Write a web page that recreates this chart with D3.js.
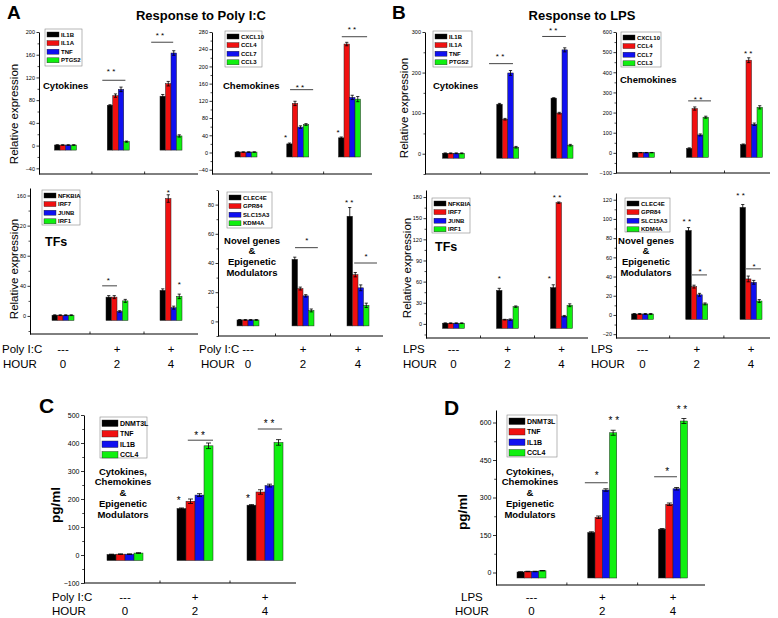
<!DOCTYPE html>
<html><head><meta charset="utf-8">
<script src="https://cdn.jsdelivr.net/npm/d3@7"></script>
<style>
body{margin:0;background:#fff}
text{font-family:"Liberation Sans",Arial,sans-serif;fill:#000}
</style>
</head><body>
<svg id="c" width="778" height="618"></svg>
<script>
// ---------------- DATA ----------------
const hours = ["0","2","4"];
const treatmentMarks = ["---","+","+"];
const cytokineGenes = ["IL1B","IL1A","TNF","PTGS2"];
const chemokineGenes = ["CXCL10","CCL4","CCL7","CCL3"];
const tfGenes = ["NFKBIA","IRF7","JUNB","IRF1"];
const novelGenes = ["CLEC4E","GPR84","SLC15A3","KDM4A"];
const proteinGenes = ["DNMT3L","TNF","IL1B","CCL4"];
const seriesColors = ["#000000","#f01010","#1010f0","#10f010"];

// rows = hours (0,2,4), columns = genes
const polyCytokines    = [[1,1,1,1],[71,88,99,7],[87,109,163,17]];
const polyCytokinesErr = [[0.5,0.5,0.5,0.5],[1,3,4,1],[3,4,4,2]];
const polyChemokines    = [[1,1,1,1],[20,114,59,65],[34,252,128,124]];
const polyChemokinesErr = [[0.5,0.5,0.5,0.5],[2,5,3,2],[2,4,5,6]];
const polyTFs    = [[1,1,1,1],[25,25,6,20],[34,156,11,26]];
const polyTFsErr = [[0.5,0.5,0.5,0.5],[2,2,1,2],[2,5,2,3]];
const polyNovel    = [[1,1,1,1],[42.5,22.5,17.5,7.5],[72,32,23,11]];
const polyNovelErr = [[0.3,0.3,0.3,0.3],[1.5,1,0.8,1],[6,1.5,2,1.5]];
const lpsCytokines    = [[1,1,1,1],[122,85,199,16],[137,100,256,21]];
const lpsCytokinesErr = [[1,1,1,1],[2,2,6,2],[1,2,5,2]];
const lpsChemokines    = [[1,1,1,1],[22,220,89,177],[41,460,142,226]];
const lpsChemokinesErr = [[1,1,1,1],[3,8,5,5],[3,12,6,8]];
const lpsTFs    = [[1,1,1,1],[47.5,6,6,24.5],[51.5,172,11,26.5]];
const lpsTFsErr = [[0.5,0.5,0.5,0.5],[3,0.5,1,1],[4,1,1,2]];
const lpsNovel    = [[1,1,1,1],[88,29.5,21,11.5],[112,37.5,34,14.5]];
const lpsNovelErr = [[0.5,0.5,0.5,0.5],[3,1.5,1.5,1],[3,3,2,1.5]];
const polyProtein    = [[2,3,3,7],[166,192,214,390],[178,225,248,402]];
const polyProteinErr = [[1,1,1,1],[2,8,5,10],[2,8,5,10]];
const lpsProtein    = [[2,4,4,7],[160,221,330,559],[173,273,335,606]];
const lpsProteinErr = [[1,1,1,1],[3,5,5,10],[3,5,5,10]];

// tick labels
const polyCytokineTicks = [-40,0,40,80,120,160,200];
const polyChemokineTicks = [-40,0,40,80,120,160,200,240,280];
const polyTFTicks = [0,40,80,120,160];
const polyNovelTicks = [0,20,40,60,80];
const lpsCytokineTicks = [0,100,200,300];
const lpsChemokineTicks = [-100,0,100,200,300,400,500,600];
const lpsTFTicks = [0,30,60,90,120,150,180];
const lpsNovelTicks = [-20,0,20,40,60,80,100,120];
const polyProteinTicks = [-100,0,100,200,300,400,500];
const lpsProteinTicks = [0,150,300,450,600];

// significance: lines [hourIndex, fromSlot, toSlot, value]; marks [hourIndex, slot, value, text]
const polyCytokinesSigLines = [[1,-2.9,1.3,115],[2,-3.6,0.4,182]];
const polyCytokinesSigMarks = [[1,-1.3,134,"* *"],[2,-2,198,"* *"]];
const polyChemokinesSigLines = [[1,-1.4,2.8,146],[2,-1.4,3.2,269]];
const polyChemokinesSigMarks = [[1,0.4,155,"* *"],[2,0.45,290,"* *"],[1,-2.2,39,"*"],[2,-2.1,51,"*"]];
const polyTFsSigLines = [[1,-2.7,0,40]];
const polyTFsSigMarks = [[1,-1.6,50,"*"],[2,-0.5,167,"*"],[2,1.5,44,"*"]];
const polyNovelSigLines = [[1,-1.45,2.7,50.5],[2,-0.7,3.45,40]];
const polyNovelSigMarks = [[1,0.7,57,"*"],[2,1.45,46,"*"],[2,-1.6,83,"* *"]];
const lpsCytokinesSigLines = [[1,-3.4,0.95,222],[2,-3.6,0.7,289]];
const lpsCytokinesSigMarks = [[1,-1.4,246,"* *"],[2,-1.6,310,"* *"]];
const lpsChemokinesSigLines = [[1,-1.7,2.45,258]];
const lpsChemokinesSigMarks = [[1,0.1,278,"* *"],[2,-0.6,506,"* *"]];
const lpsTFsSigLines = [];
const lpsTFsSigMarks = [[1,-1.5,68,"*"],[2,-2.2,68,"*"],[2,-0.8,183,"* *"]];
const lpsNovelSigLines = [[1,-0.86,1.86,41.7],[2,-0.9,1.8,48]];
const lpsNovelSigMarks = [[1,-1.8,100,"* *"],[1,0.6,47,"*"],[2,-1.9,127,"* *"],[2,0.55,53,"*"]];
const polyProteinSigLines = [[1,-0.8,2.0,410],[2,-0.8,1.9,450]];
const polyProteinSigMarks = [[1,-1.8,204,"*"],[1,0.5,436,"* *"],[2,-1.9,211,"*"],[2,0.45,478,"* *"]];
const lpsProteinSigLines = [[1,-2.4,0.76,359],[2,-2.6,0.55,383]];
const lpsProteinSigMarks = [[1,-0.76,398,"*"],[1,1.6,618,"* *"],[2,-0.8,414,"*"],[2,1.24,662,"* *"]];

// ---------------- DRAW ----------------
const svg = d3.select("#c");
const FONT = '"Liberation Sans",Arial,sans-serif';

const panels = [
 {genes:cytokineGenes, values:polyCytokines, errors:polyCytokinesErr, ticks:polyCytokineTicks,
  sigLines:polyCytokinesSigLines, sigMarks:polyCytokinesSigMarks,
  domain:[-50,200], x0:39, x1:198, yB:174, yT:32, c0:65.5, c4:171, gw:22, legend:[45,29,37,37], big:false,
  note:{lines:["Cytokines"], x:43, y:85, anchor:"start", size:9.5}},
 {genes:chemokineGenes, values:polyChemokines, errors:polyChemokinesErr, ticks:polyChemokineTicks,
  sigLines:polyChemokinesSigLines, sigMarks:polyChemokinesSigMarks,
  domain:[-50,280], x0:212, x1:372, yB:174, yT:32, c0:246, c4:349.5, gw:22, legend:[225,31,37,36], big:false,
  note:{lines:["Chemokines"], x:223, y:85, anchor:"start", size:9.5}},
 {genes:tfGenes, values:polyTFs, errors:polyTFsErr, ticks:polyTFTicks,
  sigLines:polyTFsSigLines, sigMarks:polyTFsSigMarks,
  domain:[-24,170], x0:30, x1:198, yB:334, yT:188, c0:63, c4:171, gw:22, legend:[42,190,38,35], big:false,
  note:{lines:["TFs"], x:45, y:242, anchor:"start", size:12.5}},
 {genes:novelGenes, values:polyNovel, errors:polyNovelErr, ticks:polyNovelTicks,
  sigLines:polyNovelSigLines, sigMarks:polyNovelSigMarks,
  domain:[-10,90], x0:218, x1:383, yB:336, yT:190, c0:248, c4:358, gw:22, legend:[227,192,45,36], big:false,
  note:{lines:["Novel genes","&","Epigenetic","Modulators"], x:252, y:240, anchor:"middle", size:9.5, lh:10.7}},
 {genes:cytokineGenes, values:lpsCytokines, errors:lpsCytokinesErr, ticks:lpsCytokineTicks,
  sigLines:lpsCytokinesSigLines, sigMarks:lpsCytokinesSigMarks,
  domain:[-50,300], x0:425, x1:588, yB:174, yT:32, c0:453.5, c4:562, gw:22, legend:[433,31,39,36], big:false,
  note:{lines:["Cytokines"], x:433, y:85, anchor:"start", size:9.5}},
 {genes:chemokineGenes, values:lpsChemokines, errors:lpsChemokinesErr, ticks:lpsChemokineTicks,
  sigLines:lpsChemokinesSigLines, sigMarks:lpsChemokinesSigMarks,
  domain:[-100,600], x0:616, x1:770, yB:173, yT:32, c0:643.5, c4:751.5, gw:22, legend:[621,32,40,35], big:false,
  note:{lines:["Chemokines"], x:620, y:79, anchor:"start", size:9.5}},
 {genes:tfGenes, values:lpsTFs, errors:lpsTFsErr, ticks:lpsTFTicks,
  sigLines:lpsTFsSigLines, sigMarks:lpsTFsSigMarks,
  domain:[-20,190], x0:426, x1:588, yB:338, yT:190, c0:453.5, c4:561.5, gw:22, legend:[432,198,38,35], big:false,
  note:{lines:["TFs"], x:435, y:247, anchor:"start", size:12.5}},
 {genes:novelGenes, values:lpsNovel, errors:lpsNovelErr, ticks:lpsNovelTicks,
  sigLines:lpsNovelSigLines, sigMarks:lpsNovelSigMarks,
  domain:[-24,127], x0:616, x1:770, yB:338, yT:193, c0:642.5, c4:751, gw:22, legend:[625,198,45,34], big:false,
  note:{lines:["Novel genes","&","Epigenetic","Modulators"], x:646, y:240, anchor:"middle", size:9.5, lh:10.7}},
 {genes:proteinGenes, values:polyProtein, errors:polyProteinErr, ticks:polyProteinTicks,
  sigLines:polyProteinSigLines, sigMarks:polyProteinSigMarks,
  domain:[-100,500], x0:84, x1:296, yB:583, yT:415, c0:125, c4:265, gw:36, legend:[100,417,47,41], big:true,
  note:{lines:["Cytokines,","Chemokines","&","Epigenetic","Modulators"], x:123, y:471, anchor:"middle", size:9.5, lh:10.8}},
 {genes:proteinGenes, values:lpsProtein, errors:lpsProteinErr, ticks:lpsProteinTicks,
  sigLines:lpsProteinSigLines, sigMarks:lpsProteinSigMarks,
  domain:[-50,650], x0:496, x1:705, yB:585, yT:410, c0:531.5, c4:673, gw:29, legend:[507,415,50,42], big:true,
  note:{lines:["Cytokines,","Chemokines","&","Epigenetic","Modulators"], x:530, y:471, anchor:"middle", size:9.5, lh:10.8}}
];

function drawPanel(p){
  const g = svg.append("g");
  const y = d3.scaleLinear().domain(p.domain).range([p.yB, p.yT]);
  const xg = d3.scalePoint().domain(hours).range([p.c0, p.c4]);
  const xs = d3.scaleBand().domain(p.genes).range([-p.gw/2, p.gw/2]);
  const bw = xs.bandwidth();
  const tfs = p.big ? 7 : 5.5;
  const baseY = y(0) + (p.big ? 5.5 : 4.5);   // bars drawn slightly below zero as in the original

  // y axis
  const ax = g.append("g").attr("transform",`translate(${p.x0},0)`)
    .call(d3.axisLeft(y).tickValues(p.ticks).tickSize(p.big?3:2.5).tickSizeOuter(0).tickPadding(1.5).tickFormat(d3.format("d")));
  ax.selectAll("text").style("font-size",tfs+"px").style("font-family",FONT);
  ax.select(".domain").attr("stroke","#000").attr("stroke-width",1);
  ax.selectAll(".tick line").attr("stroke","#000").attr("stroke-width",0.8);
  // minor ticks
  const step = p.ticks[1]-p.ticks[0];
  const minors = [];
  for(let t = p.ticks[0]-step/2; t <= p.domain[1]; t += step){ if(t>=p.domain[0]) minors.push(t); }
  const mx = g.append("g").attr("transform",`translate(${p.x0},0)`)
    .call(d3.axisLeft(y).tickValues(minors).tickSize(p.big?1.8:1.5).tickSizeOuter(0).tickFormat(""));
  mx.select(".domain").remove();
  mx.selectAll(".tick line").attr("stroke","#000").attr("stroke-width",0.7);

  // x axis line
  g.append("line").attr("x1",p.x0).attr("x2",p.x1).attr("y1",p.yB).attr("y2",p.yB)
    .attr("stroke","#000").attr("stroke-width",1);
  const bounds = [ (xg("0")+xg("2"))/2, (xg("2")+xg("4"))/2 ];
  g.selectAll(".xb").data(bounds).enter().append("line")
    .attr("x1",d=>d).attr("x2",d=>d).attr("y1",p.yB).attr("y2",p.yB-2.5)
    .attr("stroke","#000").attr("stroke-width",0.8);

  // bars
  p.values.forEach((row,hi)=>{
    row.forEach((v,si)=>{
      const x = xg(hours[hi]) + xs(p.genes[si]);
      g.append("rect").attr("x",x).attr("y",y(v)).attr("width",bw).attr("height",Math.max(0,baseY-y(v)))
        .attr("fill",seriesColors[si]).attr("stroke","#222").attr("stroke-width",0.5);
    });
  });
  // error bars
  p.values.forEach((row,hi)=>{
    row.forEach((v,si)=>{
      const e = p.errors[hi][si];
      const cx = xg(hours[hi]) + xs(p.genes[si]) + bw/2;
      const cap = p.big ? 2.5 : 1.6;
      g.append("line").attr("x1",cx).attr("x2",cx).attr("y1",y(v-e)).attr("y2",y(v+e)).attr("stroke","#000").attr("stroke-width",0.8);
      g.append("line").attr("x1",cx-cap).attr("x2",cx+cap).attr("y1",y(v+e)).attr("y2",y(v+e)).attr("stroke","#000").attr("stroke-width",0.8);
      g.append("line").attr("x1",cx-cap).attr("x2",cx+cap).attr("y1",y(v-e)).attr("y2",y(v-e)).attr("stroke","#000").attr("stroke-width",0.8);
    });
  });

  // significance
  p.sigLines.forEach(([hi,a,b,v])=>{
    const c = xg(hours[hi]);
    g.append("line").attr("x1",c+a*bw).attr("x2",c+b*bw).attr("y1",y(v)).attr("y2",y(v))
      .attr("stroke","#444").attr("stroke-width",1);
  });
  const sfs = p.big ? 10 : 8;
  p.sigMarks.forEach(([hi,s,v,t])=>{
    const c = xg(hours[hi]);
    g.append("text").attr("x",c+s*bw).attr("y",y(v)+0.58*sfs).attr("text-anchor","middle")
      .style("font-size",sfs+"px").style("fill","#000").text(t);
  });

  // legend
  const [lx,ly,lw,lh] = p.legend;
  g.append("rect").attr("x",lx).attr("y",ly).attr("width",lw).attr("height",lh)
    .attr("fill","#fff").attr("stroke","#888").attr("stroke-width",0.6);
  const sw = p.big?16:12, sh = p.big?6.5:5, rs = p.big?10.5:8.6, lfs = p.big?7:6;
  p.genes.forEach((gn,i)=>{
    const ry = ly + 3 + i*rs;
    g.append("rect").attr("x",lx+2).attr("y",ry).attr("width",sw).attr("height",sh)
      .attr("fill",seriesColors[i]).attr("stroke","#222").attr("stroke-width",0.4);
    g.append("text").attr("x",lx+sw+4).attr("y",ry+sh/2).attr("dominant-baseline","central")
      .style("font-size",lfs+"px").style("font-weight","bold").style("fill","#000").text(gn);
  });

  // note
  const n = p.note;
  n.lines.forEach((t,i)=>{
    g.append("text").attr("x",n.x).attr("y",n.y + i*(n.lh||0)).attr("text-anchor",n.anchor)
      .attr("dominant-baseline","central").style("font-size",n.size+"px").style("font-weight","bold").text(t);
  });
  return {xg};
}

const drawn = panels.map(drawPanel);

// treatment / hour rows
function rows(xg, treat, tx, hx, y1, y2){
  svg.append("text").attr("x",tx).attr("y",y1).attr("dominant-baseline","central").style("font-size","11.5px").text(treat);
  svg.append("text").attr("x",hx).attr("y",y2).attr("dominant-baseline","central").style("font-size","11.5px").text("HOUR");
  hours.forEach((h,i)=>{
    svg.append("text").attr("x",xg(h)).attr("y",y1).attr("text-anchor","middle").attr("dominant-baseline","central").style("font-size","11.5px").text(treatmentMarks[i]);
    svg.append("text").attr("x",xg(h)).attr("y",y2).attr("text-anchor","middle").attr("dominant-baseline","central").style("font-size","11.5px").text(h);
  });
}
rows(drawn[2].xg, "Poly I:C", 2, 3, 349, 364);
rows(drawn[3].xg, "Poly I:C", 199, 201, 349, 364);
rows(drawn[6].xg, "LPS", 403, 403, 349, 364);
rows(drawn[7].xg, "LPS", 591, 591, 349, 364);
rows(drawn[8].xg, "Poly I:C", 52, 52, 597, 611);
rows(drawn[9].xg, "LPS", 461, 455, 597, 611);

// y labels
function ylab(x,y,t,size,bold){
  svg.append("text").attr("transform",`translate(${x},${y}) rotate(-90)`).attr("text-anchor","middle")
    .attr("dominant-baseline","central").style("font-size",size+"px").style("font-weight",bold?"bold":"normal").text(t);
}
ylab(14,114,"Relative expression",11.5,false);
ylab(14,269,"Relative expression",11.5,false);
ylab(404,108,"Relative expression",11.5,false);
ylab(407,268,"Relative expression",11.5,false);
ylab(55,505,"pg/ml",13.5,true);
ylab(462,512,"pg/ml",13.5,true);

// titles and panel letters
svg.append("text").attr("x",201).attr("y",20).attr("text-anchor","middle").style("font-size","13px").style("font-weight","bold").text("Response to Poly I:C");
svg.append("text").attr("x",582).attr("y",20).attr("text-anchor","middle").style("font-size","13px").style("font-weight","bold").text("Response to LPS");
[["A",7,19,19],["B",392,19,19],["C",39,413,21],["D",444,415,21]].forEach(([t,x,y,s])=>{
  svg.append("text").attr("x",x).attr("y",y).style("font-size",s+"px").style("font-weight","bold").text(t);
});
</script>
</body></html>
